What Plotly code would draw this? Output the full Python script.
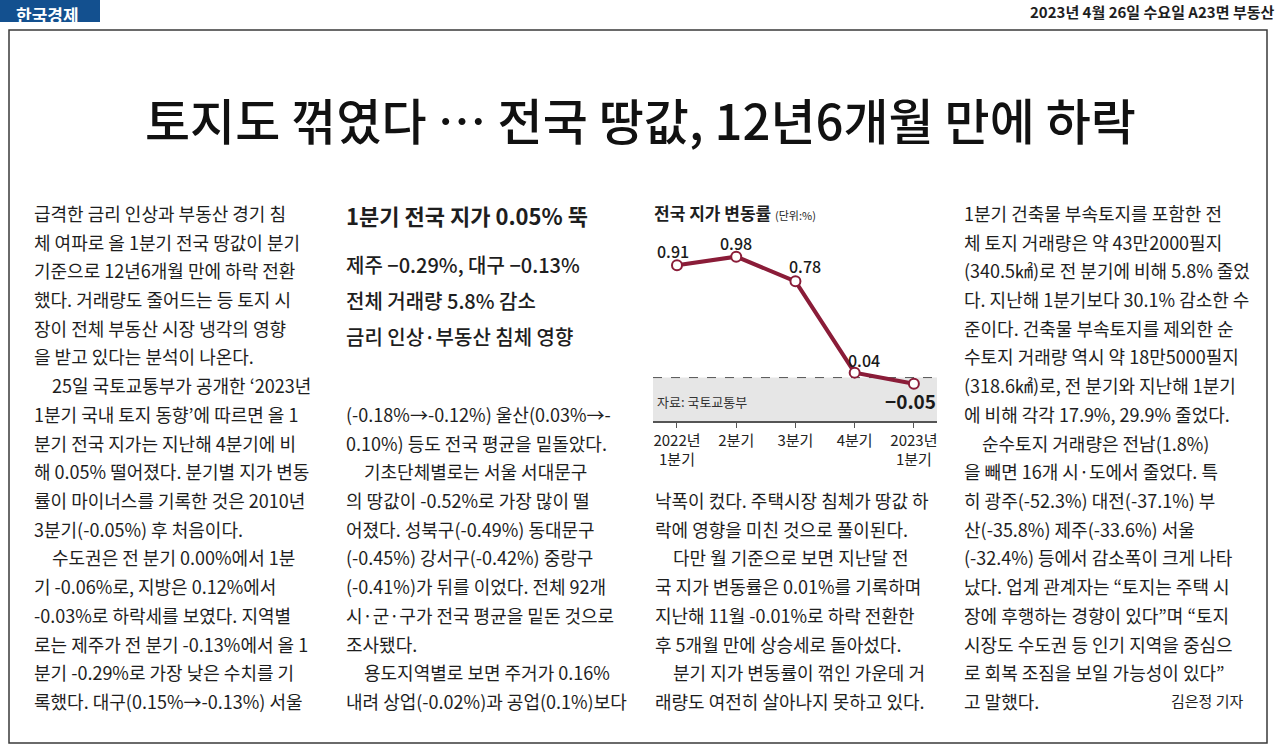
import plotly.graph_objects as go

W, H = 1280, 752
FONT = "Noto Sans CJK KR"
INK = "#1e1e1e"
MAROON = "#8a1c38"

# ---------------- data ----------------
quarters = ["2022년<br>1분기", "2분기", "3분기", "4분기", "2023년<br>1분기"]
values = [0.91, 0.98, 0.78, 0.04, -0.05]
value_labels = ["0.91", "0.98", "0.78", "0.04", "−0.05"]

logo_text = "한국경제"
dateline = "2023년 4월 26일 수요일 A23면 부동산"
headline = "토지도 꺾였다 … 전국 땅값, 12년6개월 만에 하락"
chart_title = "전국 지가 변동률"
chart_unit = "(단위:%)"
source_text = "자료: 국토교통부"

col1_lines = [
    "급격한 금리 인상과 부동산 경기 침",
    "체 여파로 올 1분기 전국 땅값이 분기",
    "기준으로 12년6개월 만에 하락 전환",
    "했다. 거래량도 줄어드는 등 토지 시",
    "장이 전체 부동산 시장 냉각의 영향",
    "을 받고 있다는 분석이 나온다.",
    "\u300025일 국토교통부가 공개한 ‘2023년",
    "1분기 국내 토지 동향’에 따르면 올 1",
    "분기 전국 지가는 지난해 4분기에 비",
    "해 0.05% 떨어졌다. 분기별 지가 변동",
    "률이 마이너스를 기록한 것은 2010년",
    "3분기(-0.05%) 후 처음이다.",
    "\u3000수도권은 전 분기 0.00%에서 1분",
    "기 -0.06%로, 지방은 0.12%에서",
    "-0.03%로 하락세를 보였다. 지역별",
    "로는 제주가 전 분기 -0.13%에서 올 1",
    "분기 -0.29%로 가장 낮은 수치를 기",
    "록했다. 대구(0.15%→-0.13%) 서울",
]

col2_head = "1분기 전국 지가 0.05% 뚝"
col2_subs = ["제주 −0.29%, 대구 −0.13%", "전체 거래량 5.8% 감소", "금리 인상·부동산 침체 영향"]
col2_lines = [
    "(-0.18%→-0.12%) 울산(0.03%→-",
    "0.10%) 등도 전국 평균을 밑돌았다.",
    "\u3000기초단체별로는 서울 서대문구",
    "의 땅값이 -0.52%로 가장 많이 떨",
    "어졌다. 성북구(-0.49%) 동대문구",
    "(-0.45%) 강서구(-0.42%) 중랑구",
    "(-0.41%)가 뒤를 이었다. 전체 92개",
    "시·군·구가 전국 평균을 밑돈 것으로",
    "조사됐다.",
    "\u3000용도지역별로 보면 주거가 0.16%",
    "내려 상업(-0.02%)과 공업(0.1%)보다",
]

col3_lines = [
    "낙폭이 컸다. 주택시장 침체가 땅값 하",
    "락에 영향을 미친 것으로 풀이된다.",
    "\u3000다만 월 기준으로 보면 지난달 전",
    "국 지가 변동률은 0.01%를 기록하며",
    "지난해 11월 -0.01%로 하락 전환한",
    "후 5개월 만에 상승세로 돌아섰다.",
    "\u3000분기 지가 변동률이 꺾인 가운데 거",
    "래량도 여전히 살아나지 못하고 있다.",
]

col4_lines = [
    "1분기 건축물 부속토지를 포함한 전",
    "체 토지 거래량은 약 43만2000필지",
    "(340.5㎢)로 전 분기에 비해 5.8% 줄었",
    "다. 지난해 1분기보다 30.1% 감소한 수",
    "준이다. 건축물 부속토지를 제외한 순",
    "수토지 거래량 역시 약 18만5000필지",
    "(318.6㎢)로, 전 분기와 지난해 1분기",
    "에 비해 각각 17.9%, 29.9% 줄었다.",
    "\u3000순수토지 거래량은 전남(1.8%)",
    "을 빼면 16개 시·도에서 줄었다. 특",
    "히 광주(-52.3%) 대전(-37.1%) 부",
    "산(-35.8%) 제주(-33.6%) 서울",
    "(-32.4%) 등에서 감소폭이 크게 나타",
    "났다. 업계 관계자는 “토지는 주택 시",
    "장에 후행하는 경향이 있다”며 “토지",
    "시장도 수도권 등 인기 지역을 중심으",
    "로 회복 조짐을 보일 가능성이 있다”",
    "고 말했다.",
]
byline = "김은정 기자"


# ---------------- helpers ----------------
def px(x):
    return x / W


def py(y):
    return 1 - y / H


annotations = []


def text(x, y, s, size=18, color=INK, bold=False, xanchor="left", weight=None,
         yanchor="middle"):
    f = dict(family=FONT, size=size, color=color)
    if weight is not None:
        f["weight"] = weight
    elif bold:
        f["weight"] = "bold"
    annotations.append(dict(
        x=px(x), y=py(y), xref="paper", yref="paper", text=s, showarrow=False,
        xanchor=xanchor, yanchor=yanchor, font=f,
    ))


# body text lines
LINE0, LSTEP = 213, 28.7
BODY = 18
for i, s in enumerate(col1_lines):
    text(32, LINE0 + i * LSTEP, s, BODY)
for i, s in enumerate(col2_lines):
    text(344, LINE0 + (i + 7) * LSTEP, s, BODY)
for i, s in enumerate(col3_lines):
    text(653, LINE0 + (i + 10) * LSTEP, s, BODY)
for i, s in enumerate(col4_lines):
    text(962, LINE0 + i * LSTEP, s, BODY)
text(1246, LINE0 + 17 * LSTEP, byline, 15, xanchor="right")

# column 2 headings
text(344, 215, col2_head, 22, bold=True)
for i, s in enumerate(col2_subs):
    text(344, 264 + i * 36, s, 20, weight=500)

# header
text(47, 0, logo_text, 17, color="white", bold=True, xanchor="center", yanchor="top")
text(1276, 11, dateline, 15, bold=True, xanchor="right")
text(640, 118, headline, 49, color="#111111", weight=500, xanchor="center")

# chart title / source
text(652, 212, f"<b>{chart_title}</b> <span style='font-size:11px'>{chart_unit}</span>", 17)
text(655, 402, source_text, 13, color="#333333")

# data labels
label_shift = [(-4, 14), (0, 14), (10, 15), (9, 13), (-3, -17)]
for i, (lab, v) in enumerate(zip(value_labels, values)):
    dx, dy = label_shift[i]
    last = i == len(values) - 1
    annotations.append(dict(
        x=i, y=v, xref="x", yref="y", text=lab, showarrow=False,
        xshift=dx, yshift=dy, xanchor="center", yanchor="middle",
        font=dict(family=FONT, size=19 if last else 16, color="#1a1a1a",
                  weight="bold" if last else 500),
    ))

# ---------------- figure ----------------
fig = go.Figure()
fig.add_trace(go.Scatter(
    x=quarters, y=values, mode="lines+markers",
    line=dict(color=MAROON, width=4),
    marker=dict(size=10, color="white", line=dict(color=MAROON, width=2)),
    hoverinfo="skip",
))

Y_LO, Y_HI = -0.352, 1.196
shapes = [
    # negative zone
    dict(type="rect", xref="x domain", yref="y", x0=0, x1=1, y0=Y_LO, y1=0,
         fillcolor="#e6e6e6", line=dict(width=0), layer="below"),
    dict(type="line", xref="x domain", yref="y", x0=0, x1=1, y0=0, y1=0,
         line=dict(color="#555555", width=1, dash="dash"), layer="below"),
    # page frame
    dict(type="rect", xref="paper", yref="paper", x0=px(9), x1=px(1267),
         y0=py(743), y1=py(30), line=dict(color="#3a3a3a", width=1.5)),
    # logo box
    dict(type="rect", xref="paper", yref="paper", x0=0, x1=px(100),
         y0=py(22), y1=1, fillcolor="#13508f", line=dict(width=0), layer="below"),
]

fig.update_layout(
    width=W, height=H, margin=dict(l=0, r=0, t=0, b=0),
    paper_bgcolor="white", plot_bgcolor="rgba(0,0,0,0)", showlegend=False,
    xaxis=dict(
        domain=[px(653), px(937)], type="category", range=[-0.405, 4.39],
        showgrid=False, zeroline=False, showline=True, linecolor="#555555",
        linewidth=1.5, ticks="outside", ticklen=5, tickcolor="#555555",
        tickwidth=1.2, tickfont=dict(family=FONT, size=15, color="#222222"),
        fixedrange=True,
    ),
    yaxis=dict(
        domain=[py(421), py(230)], range=[Y_LO, Y_HI], visible=False,
        fixedrange=True,
    ),
    shapes=shapes,
    annotations=annotations,
)

fig.write_html(
    "out.html",
    config={"displayModeBar": False},
    post_script="document.body.style.margin='0';document.body.style.overflow='hidden';",
)
